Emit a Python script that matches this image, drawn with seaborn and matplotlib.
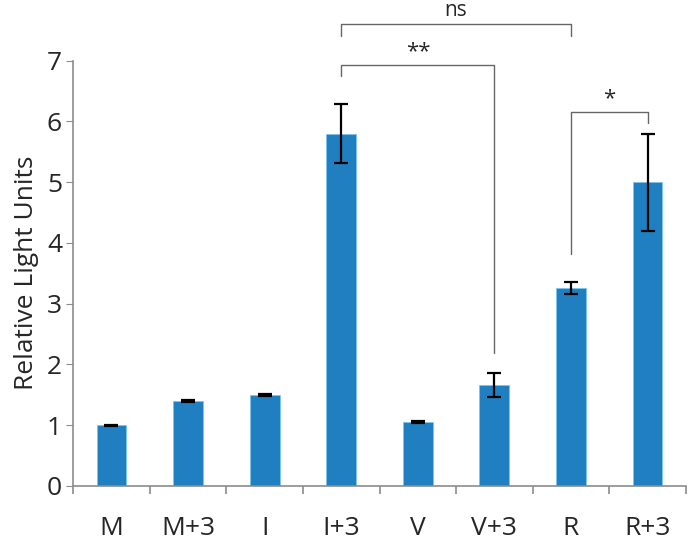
import matplotlib
matplotlib.use("Agg")
import matplotlib.pyplot as plt
import seaborn as sns
import pandas as pd
import numpy as np

# 데이터
categories = ["M", "M+3", "I", "I+3", "V", "V+3", "R", "R+3"]
values = [1.0, 1.4, 1.5, 5.8, 1.05, 1.66, 3.26, 5.0]
errors = [0.01, 0.02, 0.02, 0.48, 0.02, 0.2, 0.1, 0.8]

# 유의성 표시: (왼쪽, 오른쪽, 높이, 왼쪽 다리 끝, 오른쪽 다리 끝, 라벨)
brackets = [
    ("I+3", "R", 7.6, 7.41, 7.41, "ns"),
    ("I+3", "V+3", 6.93, 6.75, 2.18, "**"),
    ("R", "R+3", 6.15, 3.82, 5.98, "*"),
]

sns.set_style("white")
plt.rcParams["font.family"] = ["Open Sans", "DejaVu Sans"]

df = pd.DataFrame({"sample": categories, "rlu": values})

fig = plt.figure(figsize=(6.97, 5.46), dpi=100)
ax = fig.add_axes([0.105, 0.110, 0.879, 0.779])

sns.barplot(data=df, x="sample", y="rlu", color="#1f7fc0", saturation=1,
            width=0.39, edgecolor="#7cc4ee", linewidth=0.6, ax=ax)
ax.errorbar(np.arange(len(categories)), values, yerr=errors, fmt="none",
            ecolor="black", elinewidth=1.6, capsize=5, capthick=1.6, zorder=5)

ax.set_ylim(0, 7)
ax.set_xlim(-0.5, len(categories) - 0.5)
ax.set_yticks(range(0, 8))
ax.set_xlabel("")
ax.set_ylabel("Relative Light Units", fontsize=19, labelpad=6)

for s in ["top", "right"]:
    ax.spines[s].set_visible(False)
for s in ["left", "bottom"]:
    ax.spines[s].set_color("#8c8c8c")
    ax.spines[s].set_linewidth(1.2)

ax.tick_params(axis="y", which="major", left=True, length=5, color="#8c8c8c",
               labelsize=19, pad=3)
ax.tick_params(axis="x", which="major", bottom=False, labelsize=19, pad=18)
ax.set_xticks(np.arange(-0.5, len(categories)), minor=True)
ax.tick_params(axis="x", which="minor", bottom=True, length=6, width=1.2,
               color="#8c8c8c")

# 유의성 괄호
pos = {c: i for i, c in enumerate(categories)}
for left, right, h, yl, yr, label in brackets:
    x1, x2 = pos[left], pos[right]
    ax.plot([x1, x1, x2, x2], [yl, h, h, yr], color="#666666", lw=1.0,
            clip_on=False, zorder=6)
    ax.text((x1 + x2) / 2, h + 0.05, label, ha="center", va="bottom",
            fontsize=15 if label == "ns" else 16, clip_on=False)

plt.savefig("out.png", dpi=100)
